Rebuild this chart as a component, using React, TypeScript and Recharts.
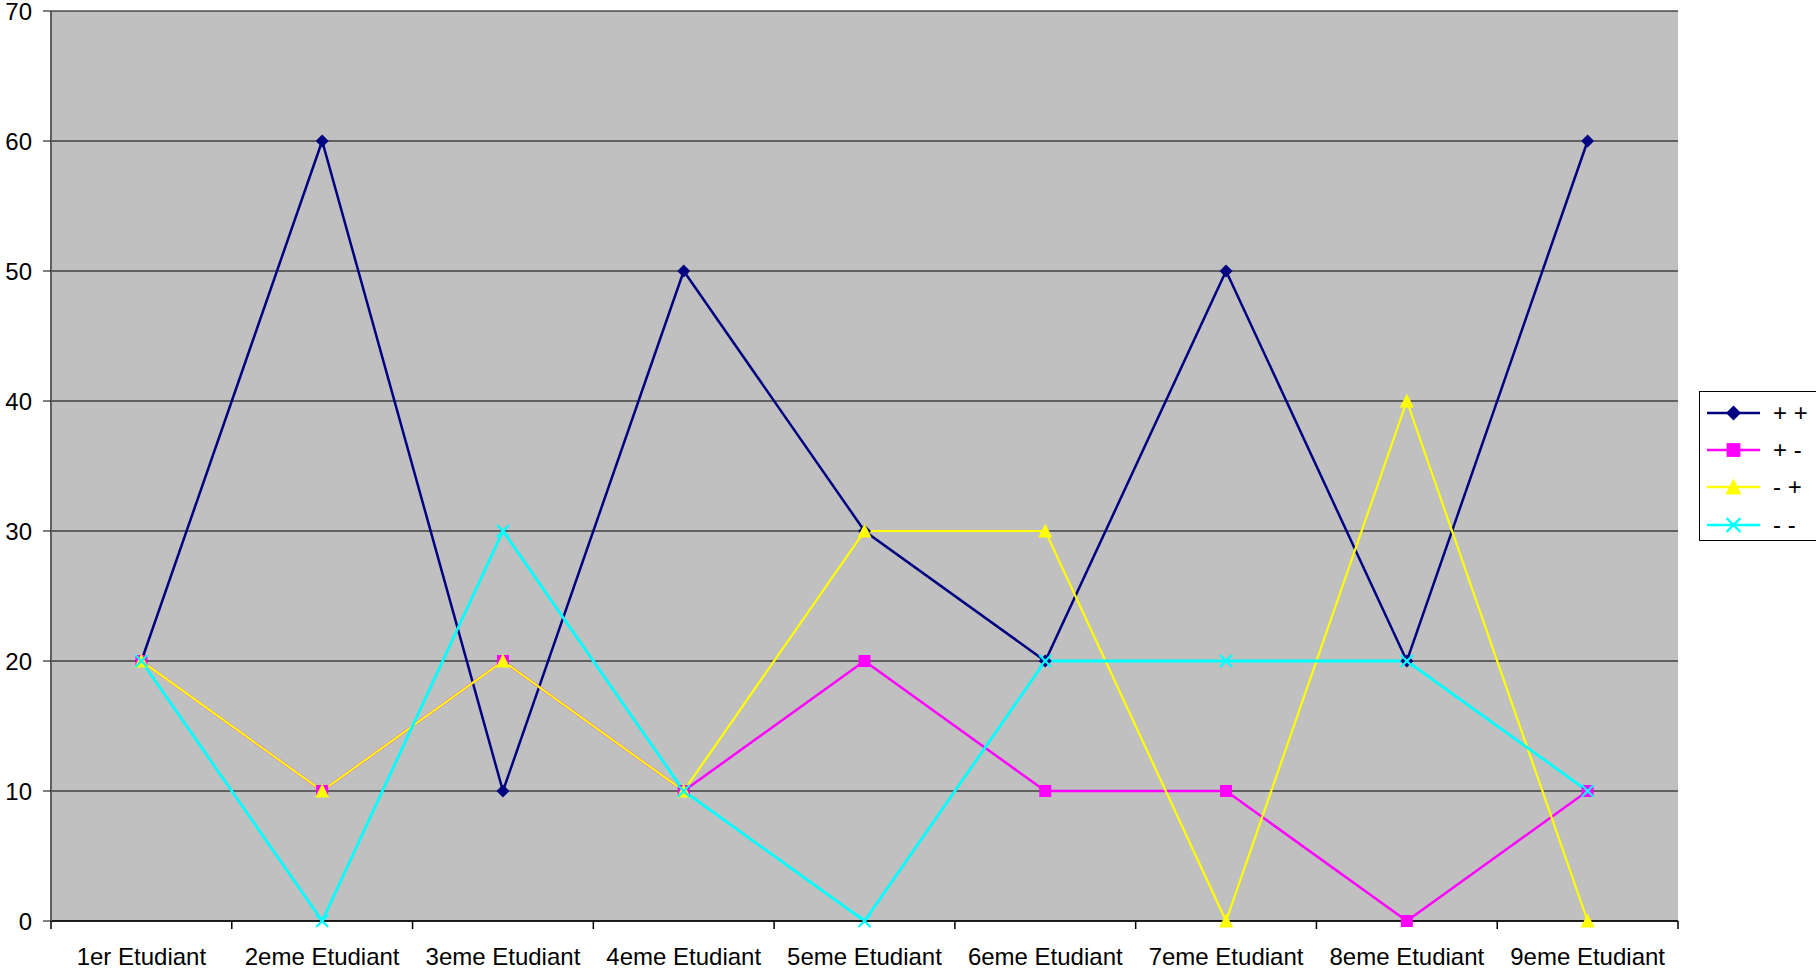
import React from "react";
import {
  LineChart,
  Line,
  XAxis,
  YAxis,
  CartesianGrid,
  Legend,
} from "recharts";

const students = [
  "1er Etudiant",
  "2eme Etudiant",
  "3eme Etudiant",
  "4eme Etudiant",
  "5eme Etudiant",
  "6eme Etudiant",
  "7eme Etudiant",
  "8eme Etudiant",
  "9eme Etudiant",
];
const plusPlus = [20, 60, 10, 50, 30, 20, 50, 20, 60];
const plusMinus = [20, 10, 20, 10, 20, 10, 10, 0, 10];
const minusPlus = [20, 10, 20, 10, 30, 30, 0, 40, 0];
const minusMinus = [20, 0, 30, 10, 0, 20, 20, 20, 10];
const yTicks = [0, 10, 20, 30, 40, 50, 60, 70];

const data = students.map((name, i) => ({
  name,
  pp: plusPlus[i],
  pm: plusMinus[i],
  mp: minusPlus[i],
  mm: minusMinus[i],
}));

const FONT = "'Liberation Sans', Arial, sans-serif";
const W = 1816;
const H = 971;
const M = { top: 11, right: 138, left: 0, bottom: 0 };
const Y_W = 51;
const X_H = 50;
const PLOT_W = W - Y_W - M.right;
const BAND = PLOT_W / students.length;

// markers, s = scale (legend uses bigger ones)
const Diamond = ({ cx, cy, fill, s = 1 }: any) => {
  if (cx == null || cy == null) return null;
  const r = 6.5 * s;
  return <polygon points={`${cx},${cy - r} ${cx + r},${cy} ${cx},${cy + r} ${cx - r},${cy}`} fill={fill} />;
};
const Square = ({ cx, cy, fill, s = 1 }: any) => {
  if (cx == null || cy == null) return null;
  const h = 6 * s;
  return <rect x={cx - h} y={cy - h} width={2 * h} height={2 * h} fill={fill} />;
};
const Triangle = ({ cx, cy, fill, s = 1 }: any) => {
  if (cx == null || cy == null) return null;
  return (
    <polygon
      points={`${cx},${cy - 7.5 * s} ${cx + 7 * s},${cy + 6.5 * s} ${cx - 7 * s},${cy + 6.5 * s}`}
      fill={fill}
    />
  );
};
const Cross = ({ cx, cy, stroke, s = 1 }: any) => {
  if (cx == null || cy == null) return null;
  const r = 6 * s;
  return (
    <g stroke={stroke} strokeWidth={2.2}>
      <line x1={cx - r} y1={cy - r} x2={cx + r} y2={cy + r} />
      <line x1={cx - r} y1={cy + r} x2={cx + r} y2={cy - r} />
    </g>
  );
};

const series = [
  { key: "pp", label: "+ +", color: "#000080", width: 2.5, Dot: Diamond },
  { key: "pm", label: "+ -", color: "#FF00FF", width: 2.5, Dot: Square },
  { key: "mp", label: "- +", color: "#FFFF00", width: 2.2, Dot: Triangle },
  { key: "mm", label: "- -", color: "#00FFFF", width: 2.8, Dot: Cross },
];

const XTick = (props: any) => {
  const { x, y, payload, index } = props;
  const top = y - 27;
  const left = x - BAND / 2;
  return (
    <g>
      <line x1={left} y1={top} x2={left} y2={top + 8} stroke="#000" strokeWidth={1.5} />
      {index === students.length - 1 && (
        <line x1={x + BAND / 2} y1={top} x2={x + BAND / 2} y2={top + 8} stroke="#000" strokeWidth={1.5} />
      )}
      <text x={x} y={y} dy="0.71em" textAnchor="middle" fontSize={24} fontFamily={FONT} fill="#000">
        {payload.value}
      </text>
    </g>
  );
};

const LegendBox = () => (
  <div
    style={{
      width: 130,
      height: 150,
      border: "1.5px solid #000",
      background: "#fff",
      boxSizing: "border-box",
      fontFamily: FONT,
      fontSize: 24,
      paddingTop: 2,
    }}
  >
    {series.map((s) => (
      <div key={s.key} style={{ display: "flex", alignItems: "center", height: 37.3 }}>
        <svg width={70} height={24} style={{ flex: "none" }}>
          <line x1={7} y1={12} x2={60} y2={12} stroke={s.color} strokeWidth={2.5} />
          <s.Dot cx={33.5} cy={12} fill={s.color} stroke={s.color} s={1.15} />
        </svg>
        <span style={{ whiteSpace: "pre", marginLeft: 3 }}>{s.label}</span>
      </div>
    ))}
  </div>
);

export default function App() {
  return (
    <div style={{ position: "absolute", left: 0, top: 0, background: "#fff" }}>
      <LineChart width={W} height={H} data={data} margin={M}>
        <CartesianGrid
          vertical={false}
          horizontal={true}
          stroke="#000"
          strokeWidth={1}
          fill="#C0C0C0"
          fillOpacity={1}
        />
        <XAxis
          dataKey="name"
          height={X_H}
          tickSize={8}
          tickMargin={19}
          tickLine={false}
          interval={0}
          padding={{ left: BAND / 2, right: BAND / 2 }}
          tick={<XTick />}
          axisLine={{ stroke: "#000", strokeWidth: 1.5 }}
        />
        <XAxis xAxisId="top" orientation="top" height={0} tick={false} tickLine={false} axisLine={{ stroke: "#808080", strokeWidth: 2 }} />
        <YAxis
          width={Y_W}
          domain={[0, 70]}
          ticks={yTicks}
          interval={0}
          tickSize={8}
          tickMargin={11}
          tickLine={{ stroke: "#000" }}
          axisLine={{ stroke: "#606060", strokeWidth: 2 }}
          tick={{ fontSize: 24, fontFamily: FONT, fill: "#000" }}
        />
        <YAxis yAxisId="right" orientation="right" width={0} tick={false} tickLine={false} axisLine={{ stroke: "#808080", strokeWidth: 2 }} />
        <Legend
          layout="vertical"
          align="center"
          verticalAlign="middle"
          content={() => <LegendBox />}
          wrapperStyle={{ position: "absolute", left: 1699, top: 391, width: 130, height: 150 }}
        />
        {series.map((s) => (
          <Line
            key={s.key}
            dataKey={s.key}
            stroke={s.color}
            strokeWidth={s.width}
            type="linear"
            dot={<s.Dot fill={s.color} stroke={s.color} />}
            activeDot={false}
            isAnimationActive={false}
          />
        ))}
      </LineChart>
    </div>
  );
}
